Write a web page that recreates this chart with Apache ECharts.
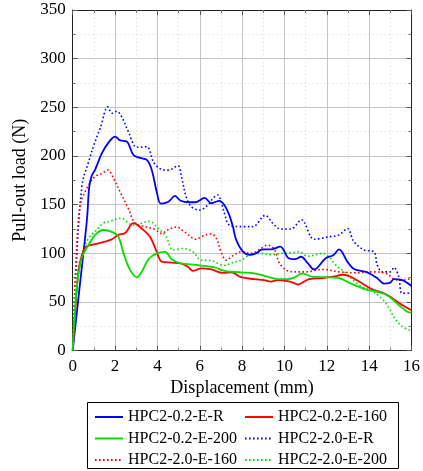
<!DOCTYPE html>
<html>
<head>
<meta charset="utf-8">
<script src="https://cdn.jsdelivr.net/npm/echarts@6/dist/echarts.min.js"></script>
<style>
  html, body { margin: 0; padding: 0; background: #fff; }
  #chart { width: 423px; height: 471px; }
</style>
</head>
<body>
<div id="chart"></div>
<script>
// series names
var names = ['HPC2-0.2-E-R', 'HPC2-0.2-E-160', 'HPC2-0.2-E-200',
             'HPC2-2.0-E-R', 'HPC2-2.0-E-160', 'HPC2-2.0-E-200'];

// [displacement (mm), load (N)]
var r02 = [[0,0],[0.3,60],[0.67,134],[0.78,168],[0.9,180],[1.06,186],[1.38,203],[1.7,214],[2.0,220],
  [2.24,216],[2.55,215],[2.87,201],[3.18,198],[3.5,196],[3.73,186],[3.97,163],[4.17,151],[4.52,153],
  [4.83,159],[5.1,154],[5.5,152.5],[5.8,152.5],[6.23,157],[6.54,151.5],[6.93,154],[7.17,149.5],
  [7.4,139],[7.56,128],[7.72,114],[8.03,102],[8.34,98.5],[8.65,100],[8.97,104],[9.36,104],[9.8,107],
  [10.2,95],[10.5,94],[10.78,96.5],[11.1,90],[11.4,83.5],[11.95,95],[12.3,98],[12.58,104],[12.97,91.5],
  [13.28,84],[13.91,80.5],[14.38,74.5],[14.7,69],[15.0,70],[15.17,73.5],[15.56,72.5],[16,66.5]];

var e160_02 = [[0,0],[0.15,50],[0.3,85],[0.59,106],[1.06,109.5],[1.53,112],[1.85,114.5],[2.16,119],
  [2.48,121],[2.87,131],[3.26,125.5],[3.65,117],[3.97,101.5],[4.2,91.5],[4.67,90.5],[5.14,89.5],
  [5.45,86],[5.68,82],[6.07,84.5],[6.54,83.5],[7.09,80],[7.48,80.5],[7.95,75.5],[8.58,73.5],[9.05,72.5],
  [9.36,71],[9.67,72.5],[10.15,71.5],[10.4,70],[10.62,68],[11.17,73.5],[11.8,74.5],[12.3,76],[12.74,78],
  [13.13,76],[13.6,70],[14.15,63],[14.7,59],[15.09,54],[15.56,47],[16,41.5]];

var e200_02 = [[0,0],[0.2,66],[0.44,96.5],[0.75,108.5],[1.06,119],[1.46,124],[1.85,122],[2.16,117],
  [2.4,100],[2.71,83],[3.03,75.5],[3.26,81],[3.58,94],[3.97,100],[4.36,101.5],[4.67,94],[5.06,90],
  [5.44,89],[6.07,87.5],[6.7,85.5],[7.17,82],[7.95,80.5],[8.58,79.5],[9.2,76],[9.67,73.5],[10.15,73.5],
  [10.45,75],[10.85,79.5],[11.32,76],[11.95,75.5],[12.58,74.5],[13.13,69],[13.83,63],[14.38,60.5],
  [14.85,57],[15.4,47],[15.8,40],[16,39]];

var r20 = [[0,0],[0.15,80],[0.44,170],[0.75,194],[1.06,215],[1.3,228.5],[1.66,250.5],[1.85,244],
  [2.08,246],[2.32,240],[2.63,225],[3.03,209],[3.5,209.5],[3.81,194],[4.12,187],[4.52,185.5],[4.97,190],
  [5.13,179],[5.36,158],[5.6,148],[5.99,144.5],[6.38,149.5],[6.62,156.5],[6.85,160],[7.01,153],
  [7.17,141],[7.4,129],[7.95,127.5],[8.5,127.5],[9.1,139],[9.44,131],[9.83,125],[10.3,125],[10.8,134.5],
  [11.4,114.5],[12.1,117],[12.58,119],[12.97,125.5],[13.28,112],[13.76,103.5],[14.23,101.5],[14.38,88],
  [14.62,81],[15.0,81],[15.17,85.5],[15.4,76],[15.56,59],[16,59]];

var e160_20 = [[0,0],[0.15,90],[0.36,150],[0.75,170],[1.06,179],[1.38,182],[1.66,185.5],[1.93,177],
  [2.24,163],[2.63,146],[2.95,131],[3.42,127.5],[3.89,124.5],[4.2,120.5],[4.52,124.5],[4.91,127],
  [5.28,122],[5.83,114.5],[6.15,118],[6.54,120],[6.78,115.5],[7.01,101.5],[7.25,93],[7.56,97.5],
  [7.95,101.5],[8.42,100],[8.89,105],[9.2,108.5],[9.52,104],[9.76,90],[10.07,83],[10.4,81],[11.01,81],
  [11.8,83.5],[12.58,81],[13.36,80],[14.15,81],[14.78,79.5],[15.25,73],[15.56,72.5],[16,74.5]];

var e200_20 = [[0,0],[0.15,70],[0.44,100],[0.75,115.5],[1.14,124],[1.44,131],[1.69,132.5],[2.3,136],
  [2.71,130],[3.01,129],[3.26,131],[3.64,133],[3.95,127.5],[4.42,117],[4.73,103.5],[5.2,105],
  [5.68,101.5],[6.07,93],[6.54,92.5],[6.93,89],[7.1,87.5],[7.56,90.5],[7.95,93],[8.42,99],[8.85,100],
  [9.4,98.5],[9.85,100],[10.3,100.5],[10.7,101.5],[11.1,97],[11.8,100],[12.1,96.5],[12.42,88],
  [12.89,80],[13.52,67.5],[14.15,61],[14.62,53],[14.93,44],[15.25,32],[15.56,25],[16,20]];

var seriesData = [r02, e160_02, e200_02, r20, e160_20, e200_20];
var colors = ['#0000ff', '#ff0000', '#00e000', '#0000ff', '#ff0000', '#00e000'];

var xTicks = { min: 0, max: 16, interval: 2 };
var yTicks = { min: 0, max: 350, interval: 50 };

var font = 'Liberation Serif';
var chart = echarts.init(document.getElementById('chart'));

function axis(pos, ticks, main) {
    return {
        type: 'value',
        position: pos,
        min: ticks.min, max: ticks.max, interval: ticks.interval,
        axisLine: { show: true, onZero: false, lineStyle: { color: '#222', width: 1 } },
        axisTick: { show: true, inside: true, length: 5, lineStyle: { color: '#555' } },
        minorTick: { show: true, splitNumber: 2, length: 3, lineStyle: { color: '#777' } },
        axisLabel: { show: main, color: '#000', fontFamily: font, fontSize: 17, margin: 7 },
        splitLine: { show: main, lineStyle: { color: '#c4c4c4', width: 1 } },
        minorSplitLine: { show: main, lineStyle: { color: '#d4d4d4', type: [1, 3] } }
    };
}

var xMain = axis('bottom', xTicks, true);
xMain.name = 'Displacement (mm)';
xMain.nameLocation = 'middle';
xMain.nameGap = 26;
xMain.nameTextStyle = { color: '#000', fontFamily: font, fontSize: 18 };

var yMain = axis('left', yTicks, true);
yMain.name = 'Pull-out load (N)';
yMain.nameLocation = 'middle';
yMain.nameGap = 39;
yMain.nameTextStyle = { color: '#000', fontFamily: font, fontSize: 18 };

var series = seriesData.map(function (d, i) {
    return {
        name: names[i],
        type: 'line',
        data: d,
        xAxisIndex: 0,
        yAxisIndex: 0,
        smooth: 0.35,
        symbol: 'none',
        showSymbol: false,
        color: colors[i],
        lineStyle: i < 3 ? { width: 1.8, color: colors[i] }
                         : { width: 1.6, color: colors[i], type: [1.6, 2.4] },
        z: i < 3 ? 3 : 2
    };
});

var legendText = { color: '#000', fontFamily: font, fontSize: 16 };

function legendCol(left, items) {
    return {
        orient: 'vertical', left: left, top: 409, height: 60, padding: 0,
        itemWidth: 28, itemHeight: 14, itemGap: 5.5,
        itemStyle: { opacity: 0 },
        data: items,
        textStyle: legendText
    };
}

var option = {
    animation: false,
    grid: { left: 72.7, right: 10.3, top: 10, bottom: 120.3 },
    xAxis: [xMain, axis('top', xTicks, false)],
    yAxis: [yMain, axis('right', yTicks, false)],
    legend: [
        legendCol(94, [names[0], names[2], names[4]]),
        legendCol(244, [names[1], names[3], names[5]])
    ],
    graphic: [{
        type: 'rect',
        shape: { x: 87.5, y: 402.5, width: 311, height: 66 },
        style: { fill: 'none', stroke: '#000', lineWidth: 1 }
    }],
    series: series
};

chart.setOption(option);
</script>
</body>
</html>
